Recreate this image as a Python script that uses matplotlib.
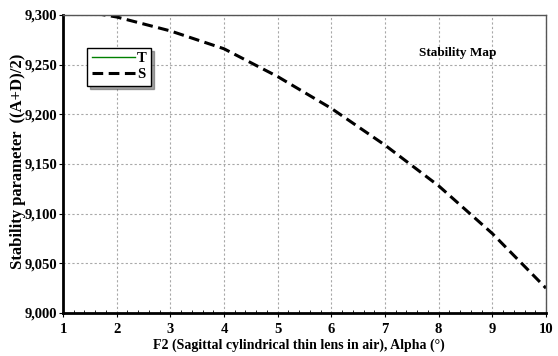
import matplotlib.pyplot as plt
import numpy as np
from matplotlib.ticker import MultipleLocator, FuncFormatter

plt.rcParams['font.family'] = ['Liberation Serif', 'DejaVu Serif']
plt.rcParams['font.weight'] = 'bold'

# --- Data ---
alpha = [1, 2, 3, 4, 5, 6, 7, 8, 9, 10]
s_values = [9.307, 9.298, 9.284, 9.266, 9.238, 9.206, 9.169, 9.128, 9.080, 9.025]
t_values = []  # T curve not visible in range

fig = plt.figure(figsize=(5.58, 3.56), dpi=100)
ax = fig.add_axes([63 / 558, 1 - 313 / 356, 483 / 558, 298 / 356])

ax.plot([], [], color='green', linewidth=1, label='T')
ax.plot(alpha, s_values, color='black', linestyle=(0, (3.5, 1.8)), linewidth=2.2, label='S')

ax.set_xlim(1, 10)
ax.set_ylim(9.0, 9.3)
ax.xaxis.set_major_locator(MultipleLocator(1))
ax.xaxis.set_minor_locator(MultipleLocator(0.2))
ax.yaxis.set_major_locator(MultipleLocator(0.05))
ax.yaxis.set_major_formatter(FuncFormatter(lambda v, p: f"{v:.3f}".replace('.', ',')))

ax.tick_params(axis='x', which='major', direction='out', length=3, labelsize=10.5, pad=4)
ax.tick_params(axis='x', which='minor', direction='in', length=2)
ax.tick_params(axis='y', which='major', direction='out', length=3, labelsize=10.5, pad=1)

for side in ['left', 'bottom']:
    ax.spines[side].set_linewidth(2)
for side in ['top', 'right']:
    ax.spines[side].set_linewidth(1)
    ax.spines[side].set_color('#555555')

ax.set_xlabel('F2 (Sagittal cylindrical thin lens in air), Alpha (°)', fontsize=10, fontweight='bold')
ax.xaxis.set_label_coords((299 - 63) / 483, -(345 - 313) / 298)
ax.xaxis.label.set_va('center')
ax.set_ylabel('Stability parameter  ((A+D)/2)', fontsize=12, fontweight='bold')
ax.yaxis.set_label_coords((18 - 63) / 483, (313 - 161) / 298)
ax.yaxis.label.set_va('center')

ax.text(0.818, 0.872, 'Stability Map', transform=ax.transAxes, fontsize=9.5,
        fontweight='bold', ha='center', va='center')

leg = ax.legend(loc='upper left', bbox_to_anchor=(0.05, 0.89), fontsize=10.5, frameon=True,
                fancybox=False, shadow=True, handlelength=3.0, borderpad=0.3,
                labelspacing=0.2, handletextpad=0.1, borderaxespad=0)
leg.get_frame().set_edgecolor('black')
leg.get_frame().set_linewidth(1)

ax.set_axisbelow(True)
ax.grid(True, which='major', axis='both', color='#a8a8a8', linestyle='--', dashes=(2, 2), linewidth=0.8)

fig.savefig('out.png', dpi=100)
